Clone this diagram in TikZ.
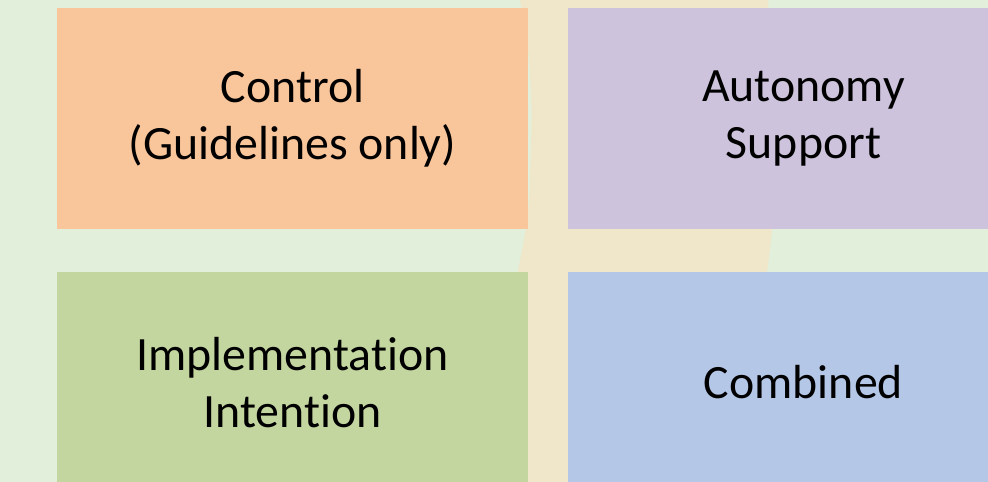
\documentclass[tikz,border=0pt]{standalone}
\usepackage{fontspec}
\setmainfont[Ligatures={NoCommon}]{Carlito}
\definecolor{bggreen}{HTML}{E2EFDA}
\definecolor{bandbeige}{HTML}{F0E6C9}
\definecolor{cellorange}{HTML}{F9C59B}
\definecolor{cellpurple}{HTML}{CDC3DC}
\definecolor{cellgreen}{HTML}{C4D6A0}
\definecolor{cellblue}{HTML}{B4C7E7}
\begin{document}
\begin{tikzpicture}[x=1bp,y=-1bp,
  cell/.style={inner sep=0pt, minimum width=471bp, minimum height=221bp,
    align=center, font=\fontsize{48}{57}\selectfont, text=black}]
  % canvas
  \useasboundingbox (0,0) rectangle (988,482);
  \fill[bggreen] (0,0) rectangle (988,482);
  % curved vertical band behind the grid
  \fill[bandbeige] plot[smooth] coordinates {(520,0) (528,50) (531.5,110) (529.5,190) (526,229) (518,272) (505,360) (488,482)}
    -- plot[smooth] coordinates {(740,482) (755,360) (767,272) (772,229) (772.5,180) (771,80) (768,0)} -- cycle;
  % quadrants
  \begin{scope}
    \clip (0,0) rectangle (988,482);
    \node[cell, fill=cellorange] (control) at (292.5,118.5) {Control\\(Guidelines only)};
    \node[cell, fill=cellpurple] (autonomy) at (803.5,118.5) {Autonomy\\Support};
    \node[cell, fill=cellgreen] (implementation) at (292.5,382.5) {Implementation\\Intention};
    \node[cell, fill=cellblue] (combined) at (803.5,382.5) {Combined};
  \end{scope}
\end{tikzpicture}
\end{document}
